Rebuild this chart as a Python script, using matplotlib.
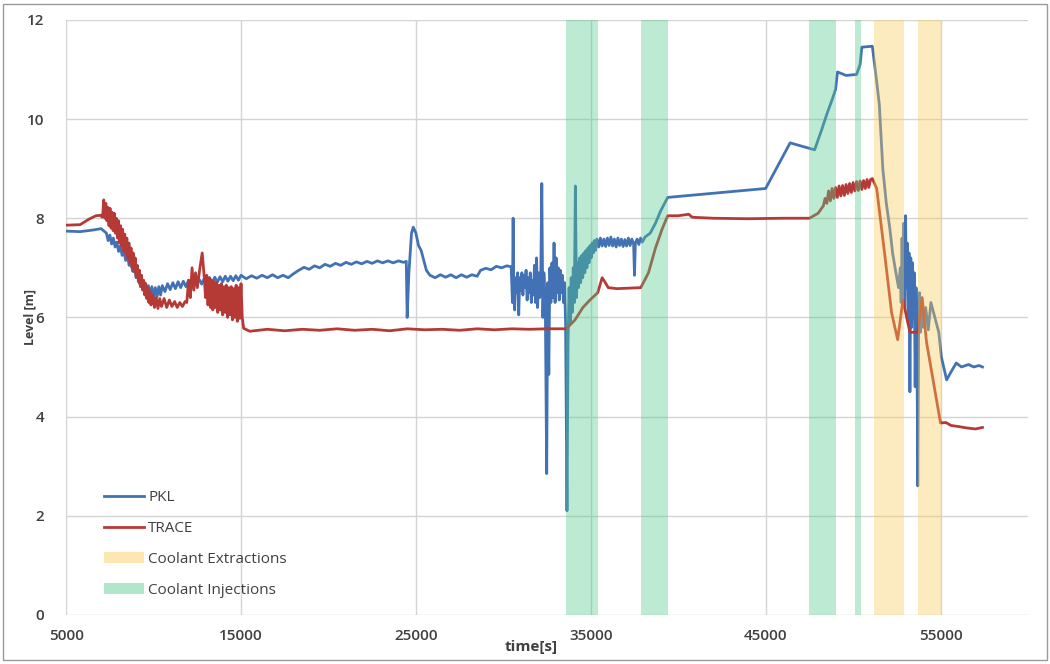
import matplotlib
matplotlib.use("Agg")
import matplotlib.pyplot as plt
from matplotlib.lines import Line2D
from matplotlib.patches import Patch, Rectangle

plt.rcParams['font.family'] = ['Open Sans', 'DejaVu Sans']

# PKL measured level (time [s], level [m])
pkl_t = [5000, 5800, 6500, 7000, 7300, 7400, 7500, 7600, 7700, 7800, 7900, 8000, 8100, 8200,
         8300, 8400, 8500, 8600, 8700, 8800, 8900, 9000, 9100, 9200, 9300, 9400, 9500, 9600,
         9700, 9800, 9900, 10000, 10100, 10200, 10300, 10400, 10500,
         10650, 10800, 10950, 11100, 11250, 11400, 11550, 11700, 11850, 12000, 12150, 12300,
         12450, 12600, 12750, 12900, 13050, 13200, 13350, 13500, 13650, 13800, 13950, 14100,
         14250, 14400, 14550, 14700, 14850, 15000,
         15300, 15600, 15900, 16200, 16500, 16800, 17100, 17400, 17700, 18000, 18300, 18600,
         18900, 19200, 19500, 19800, 20100, 20400, 20700, 21000, 21300, 21600, 21900, 22200,
         22500, 22800, 23100, 23400, 23700, 24000, 24300, 24450,
         24500, 24600, 24750, 24850, 25000, 25150, 25300, 25450, 25600, 25800, 26100, 26400,
         26700, 27000, 27300, 27600, 27900, 28200, 28500, 28700, 29000, 29300, 29600, 29900,
         30200, 30450,
         30520, 30560, 30600, 30650, 30700, 30760, 30820, 30880, 30940, 31000, 31060, 31120,
         31180, 31240, 31300, 31360, 31420, 31480, 31540, 31600, 31660, 31720, 31780, 31840,
         31900, 31960, 32020, 32080, 32140, 32200, 32260, 32320, 32400, 32480, 32540, 32600,
         32660, 32720, 32780, 32840, 32900, 32960, 33020, 33080, 33140, 33200, 33260, 33320,
         33380, 33440, 33500, 33560, 33640, 33700, 33760, 33820, 33880, 33940, 34000, 34060,
         34120, 34180, 34240, 34300, 34360, 34420, 34480, 34540, 34600, 34660, 34720, 34780,
         34840, 34900, 34960, 35020, 35080, 35140, 35200, 35260,
         35350, 35450, 35550, 35650, 35750, 35850, 35950, 36050, 36150, 36250, 36350, 36450,
         36550, 36650, 36750, 36850, 36950, 37050, 37150, 37250, 37350, 37450, 37500, 37550,
         37650, 37750, 37850, 37950, 38100, 38400, 38700, 39000, 39400,
         45000, 46400, 47800, 48200, 48500, 48830, 49000, 49110, 49600, 50200, 50400, 50500,
         51100, 51300, 51500, 51700, 51900, 52100, 52260, 52450, 52600,
         52700, 52750, 52800, 52850, 52900, 52950, 53000, 53050, 53100, 53150, 53200, 53250,
         53300, 53350, 53400, 53450, 53500, 53550, 53600, 53650, 53700, 53750, 53800, 53850,
         53900, 54000, 54150, 54300, 54450, 54600, 54750, 54900, 55050, 55350, 55600, 55900,
         56200, 56600, 56900, 57200, 57400]
pkl_v = [7.74, 7.73, 7.76, 7.79, 7.70, 7.55, 7.66, 7.48, 7.60, 7.42, 7.52, 7.33, 7.44, 7.25,
         7.36, 7.15, 7.27, 7.05, 7.15, 6.93, 7.03, 6.80, 6.92, 6.68, 6.80, 6.56, 6.70, 6.48,
         6.64, 6.42, 6.62, 6.40, 6.60, 6.42, 6.62, 6.45, 6.64,
         6.52, 6.68, 6.56, 6.70, 6.58, 6.72, 6.60, 6.73, 6.62, 6.75, 6.64, 6.76,
         6.66, 6.77, 6.67, 6.79, 6.69, 6.80, 6.70, 6.81, 6.71, 6.82, 6.72, 6.83,
         6.73, 6.83, 6.74, 6.84, 6.75, 6.85,
         6.78, 6.84, 6.79, 6.85, 6.80, 6.86, 6.80, 6.85, 6.80, 6.88, 6.95, 7.01,
         6.97, 7.04, 7.00, 7.07, 7.03, 7.09, 7.05, 7.11, 7.07, 7.12, 7.08, 7.13,
         7.09, 7.14, 7.10, 7.14, 7.10, 7.14, 7.11, 7.13,
         6.00, 6.90, 7.70, 7.82, 7.70, 7.45, 7.35, 7.15, 6.95, 6.85, 6.80, 6.86,
         6.81, 6.86, 6.80, 6.86, 6.81, 6.86, 6.83, 6.95, 6.99, 6.96, 7.03, 7.00,
         7.04, 7.02,
         6.30, 8.00, 6.40, 6.15, 6.80, 6.50, 6.90, 6.05, 6.80, 6.55, 6.90, 6.45,
         6.85, 6.60, 6.95, 6.35, 6.80, 6.50, 6.90, 6.30, 6.75, 6.45, 7.05, 6.30,
         7.20, 6.20, 6.90, 6.40, 6.80, 8.70, 6.00, 6.90, 6.30, 2.85, 6.70, 4.85,
         7.00, 6.30, 7.10, 6.40, 7.50, 6.30, 7.20, 6.50, 7.00, 6.35, 6.95, 6.50,
         6.85, 6.30, 6.70, 5.90, 2.10, 5.50, 6.60, 5.90, 6.80, 6.10, 7.00, 6.30,
         8.65, 6.40, 7.10, 6.60, 7.20, 6.70, 7.25, 6.80, 7.30, 6.90, 7.35, 7.00,
         7.40, 7.10, 7.45, 7.20, 7.50, 7.30, 7.55, 7.35,
         7.58, 7.42, 7.60, 7.44, 7.58, 7.43, 7.60, 7.45, 7.62, 7.44, 7.58, 7.42,
         7.60, 7.45, 7.58, 7.43, 7.57, 7.44, 7.60, 7.45, 7.58, 7.48, 6.85, 7.50,
         7.58, 7.47, 7.60, 7.52, 7.62, 7.70, 7.90, 8.15, 8.42,
         8.60, 9.52, 9.38, 9.78, 10.10, 10.42, 10.60, 10.95, 10.88, 10.90, 11.10, 11.45,
         11.47, 10.90, 10.30, 9.00, 8.30, 7.80, 7.30, 6.90, 6.60,
         7.00, 6.30, 7.60, 6.50, 7.90, 6.20, 8.05, 6.60, 7.50, 5.90, 7.30, 4.50,
         7.20, 5.80, 7.10, 6.00, 6.90, 4.60, 6.60, 5.50, 2.60, 5.90, 6.50, 5.70,
         6.30, 5.80, 6.20, 5.75, 6.30, 6.10, 5.90, 5.70, 5.20, 4.74, 4.90, 5.08,
         5.00, 5.05, 5.00, 5.03, 5.00]

# TRACE simulated level
trace_t = [5000, 5800, 6300, 6700, 7000, 7050, 7100, 7150, 7210, 7270, 7330, 7390, 7450,
           7510, 7570, 7630, 7690, 7750, 7810, 7870, 7930, 7990, 8050, 8110, 8170, 8230,
           8290, 8350, 8410, 8470, 8530, 8590, 8650, 8710, 8770, 8830, 8890, 8950, 9010,
           9070, 9130, 9190, 9250, 9310, 9370, 9430, 9490, 9550, 9610, 9670, 9730, 9790,
           9850, 9950, 10050, 10150, 10250, 10350, 10450, 10600, 10750, 10900, 11050, 11200,
           11350, 11500, 11650, 11800, 11900, 12000, 12100, 12200, 12300, 12400, 12500,
           12650, 12780, 12900, 12970,
           13040, 13110, 13180, 13250, 13320, 13390, 13460, 13530, 13600, 13670, 13740,
           13810, 13880, 13950, 14020, 14090, 14160, 14230, 14300, 14370, 14440, 14510,
           14580, 14650, 14720, 14790, 14860, 14930, 15000, 15070, 15150,
           15500, 16500, 17500, 18500, 19500, 20500, 21500, 22500, 23500, 24500, 25500,
           26500, 27500, 28500, 29500, 30500, 31500, 32500, 33600,
           34100, 34550, 34950, 35400, 35650, 35800, 36000, 36500, 37860, 38300, 38700,
           39100, 39400, 40000, 40600, 40800, 42000, 44000, 46000, 47500, 48000, 48300,
           48400, 48500, 48600, 48700, 48800, 48900, 49000, 49100, 49200, 49300, 49400,
           49500, 49600, 49700, 49800, 49900, 50000, 50100, 50200, 50300, 50400, 50500,
           50600, 50700, 50800, 50900, 51000, 51100, 51350, 51800, 52200, 52550,
           52850, 53250, 53700, 53950, 54200, 55000, 55300, 55600, 56000, 56500, 57000,
           57400]
trace_v = [7.86, 7.87, 7.98, 8.05, 8.06, 8.02, 8.10, 8.37, 8.00, 8.30, 7.95, 8.22, 7.85,
           8.20, 7.80, 8.12, 7.75, 8.10, 7.70, 8.00, 7.60, 7.95, 7.50, 7.85, 7.45, 7.78,
           7.35, 7.68, 7.30, 7.60, 7.20, 7.50, 7.10, 7.40, 7.00, 7.30, 6.92, 7.20, 6.82,
           7.05, 6.72, 6.95, 6.62, 6.85, 6.55, 6.75, 6.45, 6.68, 6.38, 6.60, 6.30, 6.52,
           6.25, 6.45, 6.20, 6.40, 6.18, 6.38, 6.22, 6.38, 6.20, 6.35, 6.22, 6.32,
           6.20, 6.30, 6.22, 6.32, 6.30, 6.75, 6.40, 7.00, 6.55, 6.90, 6.60,
           7.00, 7.30, 6.80, 6.40,
           6.85, 6.25, 6.80, 6.20, 6.75, 6.15, 6.72, 6.20, 6.70, 6.10, 6.65,
           6.15, 6.68, 6.05, 6.62, 6.10, 6.65, 6.00, 6.60, 6.05, 6.62, 5.95,
           6.58, 6.00, 6.65, 5.92, 6.60, 5.98, 6.68, 6.00, 5.78,
           5.72, 5.76, 5.73, 5.76, 5.74, 5.77, 5.74, 5.76, 5.73, 5.77, 5.75,
           5.76, 5.74, 5.77, 5.75, 5.77, 5.76, 5.77, 5.77,
           5.95, 6.20, 6.35, 6.50, 6.80, 6.72, 6.60, 6.58, 6.60, 6.90, 7.40,
           7.80, 8.05, 8.05, 8.08, 8.02, 8.00, 7.99, 8.00, 8.00, 8.10, 8.25,
           8.40, 8.30, 8.55, 8.35, 8.60, 8.40, 8.62, 8.42, 8.65, 8.45, 8.66,
           8.46, 8.68, 8.50, 8.70, 8.52, 8.72, 8.55, 8.74, 8.56, 8.75, 8.58,
           8.76, 8.60, 8.78, 8.62, 8.78, 8.80, 8.60, 7.30, 6.10, 5.55,
           6.35, 5.70, 5.70, 6.40, 5.50, 3.87, 3.88, 3.82, 3.80, 3.77, 3.75,
           3.78]

# shaded periods [start, end] in s
injections = [(33570, 35400), (37860, 39400), (47500, 49000), (50090, 50430)]
extractions = [(51170, 52890), (53690, 55000)]

blue = '#4272b5'
red = '#b53a36'
green = '#50c98a'
yellow = '#f9cb55'
txt = '#404040'

fig = plt.figure(figsize=(10.5, 6.64), dpi=100)
ax = fig.add_axes([0.063, 0.074, 0.916, 0.896])

ax.plot(pkl_t, pkl_v, color=blue, lw=2.0, zorder=2)
ax.plot(trace_t, trace_v, color=red, lw=2.0, zorder=2)

for a, b in injections:
    ax.axvspan(a, b, color=green, alpha=0.38, lw=0, zorder=3)
for a, b in extractions:
    ax.axvspan(a, b, color=yellow, alpha=0.38, lw=0, zorder=3)

ax.set_xlim(5000, 60000)
ax.set_ylim(0, 12)
ax.set_xticks([5000, 15000, 25000, 35000, 45000, 55000])
ax.set_yticks([0, 2, 4, 6, 8, 10, 12])
ax.grid(True, color='#d4d4d4', lw=1)
ax.set_axisbelow(True)
for s in ax.spines.values():
    s.set_visible(False)
ax.tick_params(length=0, labelsize=11, labelcolor=txt, pad=10)
ax.tick_params(axis='y', pad=16)
for lab in ax.get_xticklabels() + ax.get_yticklabels():
    lab.set_fontweight('semibold')

ax.set_xlabel('time[s]', fontsize=11, fontweight='bold', color=txt)
ax.xaxis.set_label_coords(0.483, -0.043)
ax.set_ylabel('Level [m]', fontsize=9, fontweight='bold', color=txt)
ax.yaxis.set_label_coords(-0.031, 0.5)

handles = [Line2D([], [], color=blue, lw=2.0),
           Line2D([], [], color=red, lw=2.0),
           Patch(facecolor=yellow, alpha=0.45, lw=0),
           Patch(facecolor=green, alpha=0.45, lw=0)]
labels = ['PKL', 'TRACE', 'Coolant Extractions', 'Coolant Injections']
leg = ax.legend(handles, labels, loc='lower left', bbox_to_anchor=(0.025, 0.006),
                frameon=False, fontsize=11, labelspacing=1.03, handlelength=2.6,
                handletextpad=0.3)
for t in leg.get_texts():
    t.set_color(txt)

fig.patches.append(Rectangle((0.003, 0.006), 0.994, 0.988, transform=fig.transFigure,
                             fill=False, edgecolor='#9a9a9a', lw=1))

fig.savefig('out.png', dpi=100)
